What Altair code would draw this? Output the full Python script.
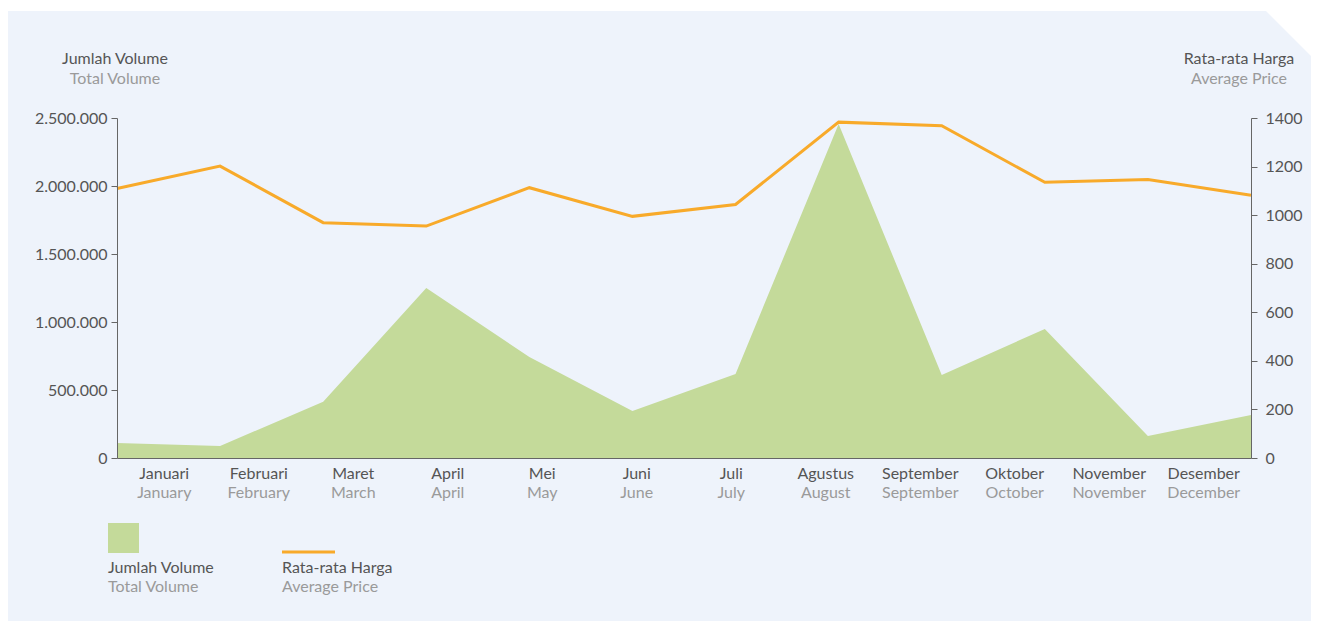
import altair as alt
import pandas as pd

month_id = ["Januari", "Februari", "Maret", "April", "Mei", "Juni", "Juli",
            "Agustus", "September", "Oktober", "November", "Desember"]
month_en = ["January", "February", "March", "April", "May", "June", "July",
            "August", "September", "October", "November", "December"]
volume = [110000, 88000, 414000, 1250000, 743000, 346000, 618000,
          2456000, 610000, 949000, 162000, 316000]
price = [1110, 1202, 969, 955, 1113, 995, 1044, 1383, 1368, 1135, 1147, 1082]

vol_ticks = [0, 500000, 1000000, 1500000, 2000000, 2500000]
price_ticks = [0, 200, 400, 600, 800, 1000, 1200, 1400]

df = pd.DataFrame({"month_id": month_id, "month_en": month_en,
                   "volume": volume, "price": price})
one = pd.DataFrame({"a": [0]})

GREEN = "#c4da9a"
ORANGE = "#f8aa2a"
CARD = "#eef3fb"
DARK = "#555555"
LIGHT = "#9a9a9a"
AXIS = "#666666"
FONT = "Lato"
FS = 16

x_data = alt.X("month_id:N", sort=month_id,
               scale=alt.Scale(type="point", padding=0),
               axis=alt.Axis(labels=False, ticks=False, title=None, grid=False,
                             domainColor=AXIS, domainWidth=1, zindex=1))

area = alt.Chart(df).mark_area(color=GREEN, opacity=1).encode(
    x=x_data,
    y=alt.Y("volume:Q", scale=alt.Scale(domain=[0, 2500000], nice=False),
            axis=alt.Axis(orient="left", values=vol_ticks, title=None, grid=False,
                          labelExpr="replace(format(datum.value, ','), regexp(',', 'g'), '.')",
                          labelFont=FONT, labelFontSize=FS, labelColor=DARK,
                          labelPadding=4, tickSize=6, tickColor=AXIS,
                          domainColor=AXIS, zindex=1)),
)

line = alt.Chart(df).mark_line(color=ORANGE, strokeWidth=3).encode(
    x=x_data,
    y=alt.Y("price:Q", scale=alt.Scale(domain=[0, 1400], nice=False),
            axis=alt.Axis(orient="right", values=price_ticks, title=None, grid=False,
                          format="d",
                          labelFont=FONT, labelFontSize=FS, labelColor=DARK,
                          labelPadding=8, tickSize=6, tickColor=AXIS,
                          domainColor=AXIS, zindex=1)),
)

data_layer = alt.layer(area, line).resolve_scale(y="independent")

x_lab = alt.X("month_id:N", sort=month_id,
              scale=alt.Scale(type="point", padding=0.5), axis=None)

lab_id = alt.Chart(df).mark_text(font=FONT, fontSize=FS, color=DARK,
                                 baseline="middle", align="center").encode(
    x=x_lab, y=alt.value(356), text="month_id:N")
lab_en = alt.Chart(df).mark_text(font=FONT, fontSize=FS, color=LIGHT,
                                 baseline="middle", align="center").encode(
    x=x_lab, y=alt.value(375), text="month_en:N")
label_layer = alt.layer(lab_id, lab_en)

card = alt.Chart(one).mark_rect(color=CARD).encode(
    x=alt.value(-109), x2=alt.value(1194), y=alt.value(-107), y2=alt.value(503))
corner = alt.Chart(one).mark_point(shape="M-1,-1L1,-1L1,1Z", filled=True,
                                   color="white", opacity=1, size=3136,
                                   strokeWidth=0).encode(
    x=alt.value(1176), y=alt.value(-80))


def txt(s, x, y, color, align="center"):
    return alt.Chart(one).mark_text(text=s, font=FONT, fontSize=FS, color=color,
                                    align=align, baseline="middle").encode(
        x=alt.value(x), y=alt.value(y))


titles = [
    txt("Jumlah Volume", -2, -59, DARK),
    txt("Total Volume", -2, -39, LIGHT),
    txt("Rata-rata Harga", 1122, -59, DARK),
    txt("Average Price", 1122, -39, LIGHT),
]

leg_rect = alt.Chart(one).mark_rect(color=GREEN).encode(
    x=alt.value(-9), x2=alt.value(22), y=alt.value(405), y2=alt.value(435))
leg_line = alt.Chart(one).mark_rule(color=ORANGE, strokeWidth=3).encode(
    x=alt.value(165), x2=alt.value(218), y=alt.value(434))
legend = [
    leg_rect, leg_line,
    txt("Jumlah Volume", -9, 450, DARK, "left"),
    txt("Total Volume", -9, 469, LIGHT, "left"),
    txt("Rata-rata Harga", 165, 450, DARK, "left"),
    txt("Average Price", 165, 469, LIGHT, "left"),
]

chart = alt.layer(card, corner, data_layer, label_layer, *titles, *legend).resolve_scale(
    x="independent", y="independent"
).properties(
    width=1134, height=340,
    autosize=alt.AutoSizeParams(type="none"),
    padding={"left": 109, "top": 110, "right": 60, "bottom": 163},
    background="white",
).configure_view(stroke=None)

chart.save("out.html", embed_options={"renderer": "svg", "actions": False})
